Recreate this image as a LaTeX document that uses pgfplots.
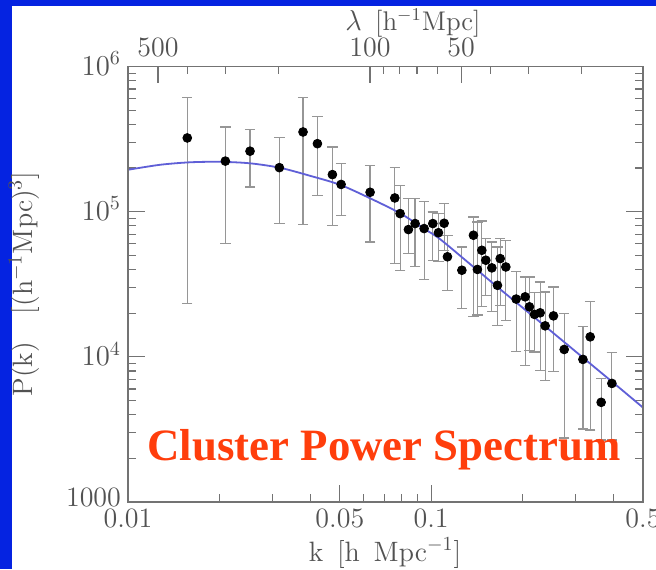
\documentclass[border=0pt]{standalone}
\usepackage{pgfplots}
\usepackage{pgfplotstable}
\pgfplotsset{compat=1.18}
\usepackage{fontspec}
\newfontfamily\titlefont{Liberation Serif}
\definecolor{bgblue}{RGB}{5,35,225}
\definecolor{curveblue}{RGB}{95,95,215}
\definecolor{titlered}{RGB}{255,62,12}
\definecolor{axgray}{RGB}{115,115,115}
\definecolor{errgray}{RGB}{150,150,150}

% k, P(k), upper error, lower error
\pgfplotstableread{
k       P        ep       em
0.01569 3.22e5   2.88e5   2.987e5
0.02095 2.23e5   1.60e5   1.627e5
0.02527 2.61e5   1.08e5   1.13e5
0.03158 2.01e5   1.23e5   1.182e5
0.03780 3.54e5   2.61e5   2.721e5
0.04216 2.94e5   1.60e5   1.65e5
0.04724 1.80e5   9.9e4    9.98e4
0.05047 1.54e5   6.0e4    5.95e4
0.06291 1.36e5   7.3e4    7.41e4
0.07589 1.243e5  7.67e4   8.04e4
0.07902 9.70e4   5.5e4    5.75e4
0.08417 7.53e4   4.77e4   2.38e4
0.08854 8.28e4   4.02e4   4.07e4
0.09482 7.65e4   4.05e4   4.24e4
0.1013  8.28e4   1.67e4   3.65e4
0.1057  7.16e4   2.59e4   2.65e4
0.1104  8.32e4   3.05e4   2.9e4
0.1132  4.89e4   1.99e4   2.01e4
0.1263  3.95e4   1.76e4   1.8e4
0.1379  6.88e4   2.31e4   4.995e4
0.1421  4.0e4    4.49e4   2.06e4
0.1470  5.42e4   3.21e4   3.21e4
0.1515  4.63e4   1.9e4    1.97e4
0.1586  4.10e4   2.09e4   2.06e4
0.1655  3.11e4   2.6e4    1.46e4
0.1690  4.75e4   1.78e4   2.48e4
0.1764  4.16e4   2.2e4    2.37e4
0.1908  2.50e4   1.35e4   1.418e4
0.2043  2.59e4   9.6e3    1.713e4
0.2110  2.21e4   1.34e4   1.098e4
0.2193  1.96e4   8.0e3    8.8e3
0.2289  2.01e4   1.27e4   1.2e4
0.2378  1.635e4  1.165e4  9.44e3
0.2533  1.915e4  1.115e4  1.127e4
0.2748  1.124e4  8.66e3   8.48e3
0.3168  9.6e3    6.5e3    6.42e3
0.3348  1.373e4  1.047e4  1.06e4
0.3639  4.86e3   2.24e3   2.19e3
0.3948  6.56e3   4.13e3   3.89e3
}\clusterdata

\pgfplotsset{
  mybox/.style={
    at={(64pt,33.5pt)}, anchor=south west, scale only axis,
    width=257.5pt, height=217.75pt,
    xmin=0.01, xmax=0.5, ymin=1000, ymax=1e6,
    axis line style={axgray, line width=0.8pt},
    tick style={axgray, line width=0.6pt},
    tick align=inside,
    major tick length=8.5pt, minor tick length=4pt,
    ticklabel style={font=\fontsize{14}{16}\selectfont, text=black!68},
  }
}

\begin{document}
\begin{tikzpicture}[x=0.5pt,y=0.5pt]
\useasboundingbox (0,0) rectangle (656,569);
\fill[bgblue] (0,0) rectangle (656,569);
\fill[white] (12,0) rectangle (656,563);

\begin{loglogaxis}[mybox,
  xtick pos=lower, ytick pos=both,
  xtick={0.01,0.05,0.1,0.5}, xticklabels={0.01,0.05,0.1,0.5},
  minor xtick={0.02,0.03,0.04,0.06,0.07,0.08,0.09,0.2,0.3,0.4},
  ytick={1000,1e4,1e5,1e6}, yticklabels={\raisebox{2pt}{1000},$10^{4}$,$10^{5}$,$10^{6}$},
  minor ytick={2000,3000,4000,5000,6000,7000,8000,9000,
               2e4,3e4,4e4,5e4,6e4,7e4,8e4,9e4,
               2e5,3e5,4e5,5e5,6e5,7e5,8e5,9e5},
  yticklabel style={yshift=1.5pt},
]
\addplot[only marks, mark=*, mark size=2.2pt, black,
  error bars/.cd, y dir=both, y explicit, error mark=-,
  error bar style={errgray, line width=0.6pt},
  error mark options={rotate=90, errgray, mark size=2.6pt, line width=0.6pt}]
  table[x=k, y=P, y error plus=ep, y error minus=em] {\clusterdata};
\addplot[curveblue, line width=0.9pt, smooth] coordinates {
(0.01,1.943e5) (0.01275,2.103e5) (0.01602,2.188e5) (0.02012,2.205e5)
(0.02527,2.153e5) (0.03175,2.005e5) (0.03988,1.766e5) (0.05009,1.531e5)
(0.06291,1.236e5) (0.07902,9.75e4) (0.09482,7.63e4) (0.1071,6.46e4)
(0.1345,4.35e4) (0.1690,2.92e4) (0.2122,1.977e4) (0.2666,1.332e4)
(0.3348,8.98e3) (0.4206,6.05e3) (0.5,4.47e3)};
\end{loglogaxis}

\begin{loglogaxis}[mybox,
  xtick pos=upper, xticklabel pos=upper, ytick=\empty,
  xtick={0.0125664,0.0628319,0.1256637}, xticklabels={500,100,50},
  minor xtick={0.0157080,0.0209440,0.0314159,0.0698132,0.0785398,0.0897598,
               0.1047198,0.1570796,0.2094395,0.3141593},
  xticklabel style={yshift=1pt},
]
\end{loglogaxis}

\node[text=titlered, font=\titlefont\bfseries\fontsize{22.4}{26}\selectfont, anchor=base]
  at (384,109) {Cluster Power Spectrum};
\node[text=black!68, font=\fontsize{14}{16}\selectfont] at (385,16)
  {k\, [h\, Mpc$^{-1}$]};
\node[text=black!68, font=\fontsize{13.5}{16}\selectfont] at (413,546)
  {$\lambda$\, [h$^{-1}$Mpc]};
\node[text=black!68, font=\fontsize{14}{16}\selectfont, rotate=90] at (24,285)
  {P(k)\quad[(h$^{-1}$Mpc)$^{3}$]};
\end{tikzpicture}
\end{document}
